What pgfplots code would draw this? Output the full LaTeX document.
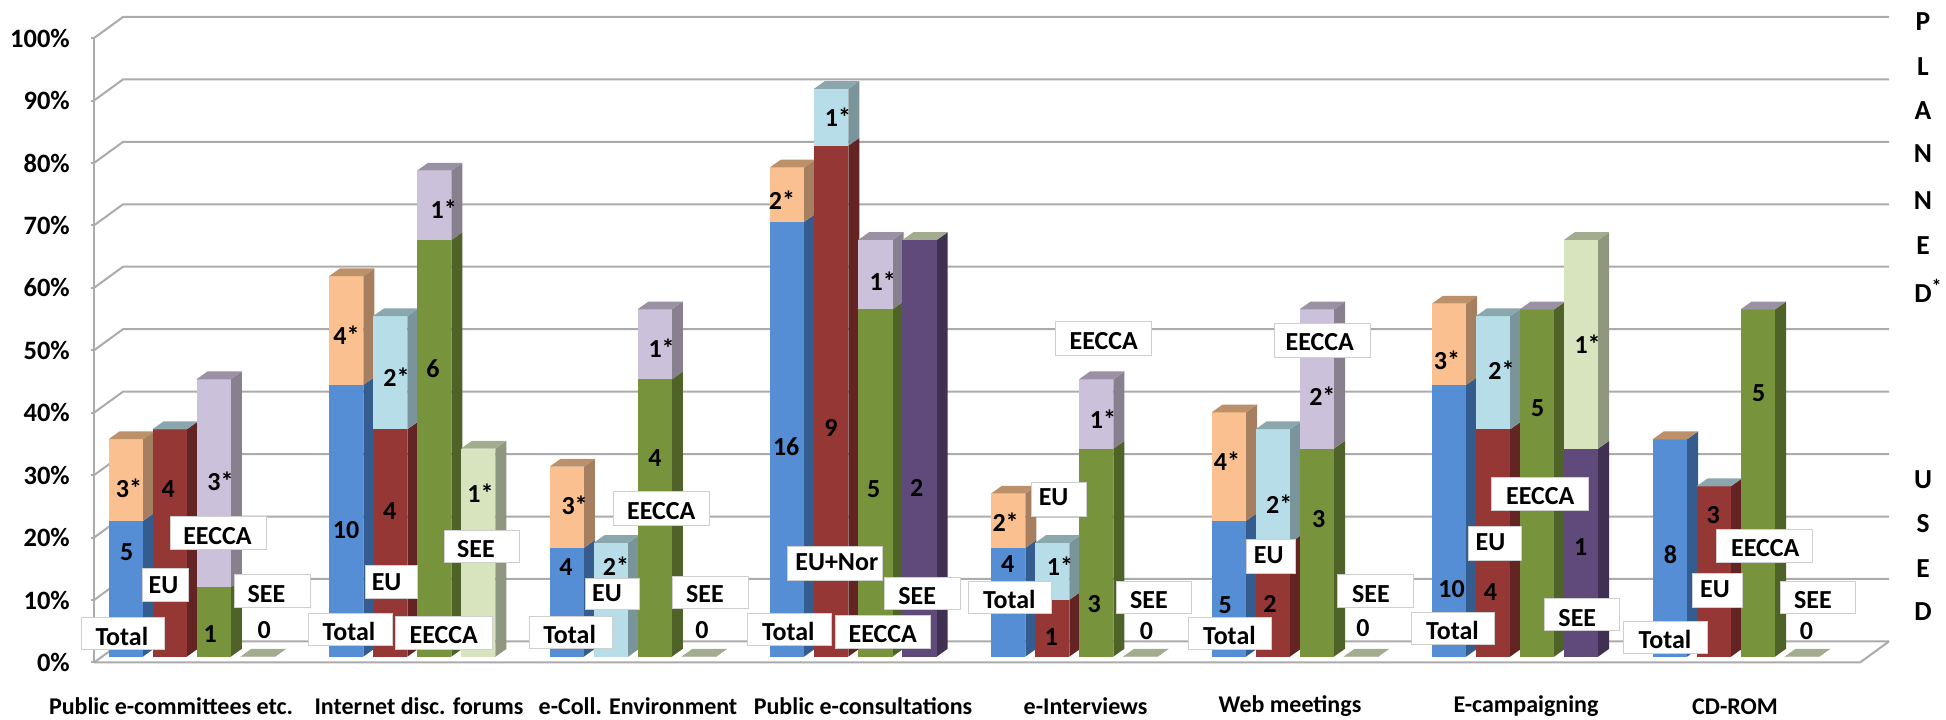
\documentclass[border=0pt]{standalone}
\usepackage{fontspec}
\setmainfont{Carlito}
\usepackage{pgfplots}
\pgfplotsset{compat=1.18}

% Front, side and top shades of the eight series colours
\definecolor{blueF}{HTML}{558ED5}\definecolor{blueS}{HTML}{345C8E}\definecolor{blueT}{HTML}{3F6A9F}
\definecolor{redF}{HTML}{953735}\definecolor{redS}{HTML}{632423}\definecolor{redT}{HTML}{702927}
\definecolor{greenF}{HTML}{77933C}\definecolor{greenS}{HTML}{4F6228}\definecolor{greenT}{HTML}{5A702E}
\definecolor{purpleF}{HTML}{604A7B}\definecolor{purpleS}{HTML}{403152}\definecolor{purpleT}{HTML}{4A3A5E}
\definecolor{orangeF}{HTML}{FAC090}\definecolor{orangeS}{HTML}{A67F60}\definecolor{orangeT}{HTML}{BC9069}
\definecolor{skyF}{HTML}{B7DEE8}\definecolor{skyS}{HTML}{7A949B}\definecolor{skyT}{HTML}{8AA7AE}
\definecolor{lilacF}{HTML}{CCC1DA}\definecolor{lilacS}{HTML}{88808F}\definecolor{lilacT}{HTML}{9A91A5}
\definecolor{paleF}{HTML}{D7E4BD}\definecolor{paleS}{HTML}{8F987E}\definecolor{paleT}{HTML}{A2AC8E}
\definecolor{wall}{HTML}{ABABAB}
\definecolor{boxline}{HTML}{CFCFCF}

\newcommand{\barw}{34.4}
\newcommand{\depx}{11}
\newcommand{\depy}{1.25}

% One block of a column: front and side face between two percentages
\newcommand{\block}[4]{%
  \pgfmathsetmacro{\xa}{#1+\barw}%
  \pgfmathsetmacro{\xb}{#1+\barw+\depx}%
  \pgfmathsetmacro{\ya}{#2+\depy}%
  \pgfmathsetmacro{\yb}{#3+\depy}%
  \addplot[fill=#4S,draw=none] coordinates {(\xa,#2)(\xb,\ya)(\xb,\yb)(\xa,#3)} -- cycle;
  \addplot[fill=#4F,draw=none] coordinates {(#1,#2)(\xa,#2)(\xa,#3)(#1,#3)} -- cycle;
}
% A whole column: left edge, top of the used part, top of used plus planned
\newcommand{\column}[5]{%
  \block{#1}{0}{#2}{#4}%
  \block{#1}{#2}{#3}{#5}%
  \pgfmathsetmacro{\xa}{#1+\barw}%
  \pgfmathsetmacro{\xb}{#1+\barw+\depx}%
  \pgfmathsetmacro{\xc}{#1+\depx}%
  \pgfmathsetmacro{\yb}{#3+\depy}%
  \addplot[fill=#5T,draw=none] coordinates {(#1,#3)(\xa,#3)(\xb,\yb)(\xc,\yb)} -- cycle;
}
% White call-out box with its caption
\newcommand{\callout}[7]{%
  \draw[boxline,fill=white,line width=0.9pt] (axis cs:#1,#2) rectangle (axis cs:#3,#4);
  \node[font=\fontsize{26}{30}\bfseries\selectfont,inner sep=0pt,anchor=center,yshift=-2.5pt] at (axis cs:#5,#6) {\strut#7};
}
\newcommand{\val}[3]{\node[font=\fontsize{26}{30}\bfseries\selectfont,inner sep=0pt,anchor=center] at (axis cs:#1,#2) {#3};}
\newcommand{\letter}[2]{\node[font=\fontsize{27.5}{30}\bfseries\selectfont,inner sep=0pt,anchor=center] at (axis cs:1923,#1) {#2};}

\begin{document}
\begin{tikzpicture}[x=1pt,y=1pt]
\useasboundingbox (0,0) rectangle (1946,720);

% Walls, floor and the percentage scale
\begin{axis}[
  at={(94pt,57.5pt)},anchor=south west,
  scale only axis,width=1795pt,height=624.4pt,
  xmin=94,xmax=1889,ymin=0,ymax=100,
  clip=false,no markers,
  axis line style={draw=none},
  ytick={0,10,...,100},
  yticklabels={0\%,10\%,20\%,30\%,40\%,50\%,60\%,70\%,80\%,90\%,100\%},
  xtick={171,419,638,863,1085.6,1290,1526,1735},
  xticklabels={Public e-committees etc.,Internet disc. forums,e-Coll. Environment,Public e-consultations,e-Interviews,Web meetings,E-campaigning,CD-ROM},
  x tick style={draw=none},
  y tick style={draw=wall,line width=2pt},
  major tick length=3pt,
  tick align=outside,
  ytick pos=left,xtick pos=bottom,
  y tick label style={font=\fontsize{26.5}{28}\bfseries\selectfont,anchor=east,inner sep=0pt,xshift=-21pt},
  x tick label style={font=\fontsize{24}{28}\bfseries\selectfont,anchor=center,inner sep=0pt,yshift=-41pt},
]
\pgfplotsinvokeforeach{0,10,...,100}{
  \addplot[draw=wall,line width=2pt] coordinates {(94,#1)(123,#1+3.38)(1889,#1+3.38)};
}
\addplot[draw=wall,line width=2pt] coordinates {(94,0)(94,100)};
\addplot[draw=wall,line width=2pt] coordinates {(94,0)(1860,0)(1889,3.38)};
\end{axis}

% Columns: share of the respondents in each group, in percent
\begin{axis}[
  at={(94pt,63.4pt)},anchor=south west,
  scale only axis,width=1795pt,height=624.6pt,
  xmin=94,xmax=1889,ymin=0,ymax=100,
  clip=false,no markers,hide axis,
]
\column{108.5}{21.7}{34.8}{blue}{orange}
\column{152.5}{36.4}{36.4}{red}{sky}
\column{196.5}{11.1}{44.4}{green}{lilac}
\column{240.5}{0}{0}{purple}{pale}

\column{329}{43.5}{60.9}{blue}{orange}
\column{373}{36.4}{54.5}{red}{sky}
\column{417}{66.7}{77.8}{green}{lilac}
\column{461}{0}{33.3}{purple}{pale}

\column{549.5}{17.4}{30.4}{blue}{orange}
\column{593.5}{0}{18.2}{red}{sky}
\column{637.5}{44.4}{55.6}{green}{lilac}
\column{681.5}{0}{0}{purple}{pale}

\column{769.7}{69.6}{78.3}{blue}{orange}
\column{813.9}{81.8}{90.9}{red}{sky}
\column{858.1}{55.6}{66.7}{green}{lilac}
\column{902.3}{66.7}{66.7}{purple}{pale}

\column{991}{17.4}{26.1}{blue}{orange}
\column{1035}{9.1}{18.2}{red}{sky}
\column{1079}{33.3}{44.4}{green}{lilac}
\column{1123}{0}{0}{purple}{pale}

\column{1211.6}{21.7}{39.1}{blue}{orange}
\column{1255.6}{18.2}{36.4}{red}{sky}
\column{1299.6}{33.3}{55.6}{green}{lilac}
\column{1343.6}{0}{0}{purple}{pale}

\column{1431.8}{43.5}{56.5}{blue}{orange}
\column{1475.8}{36.4}{54.5}{red}{sky}
\column{1519.8}{55.6}{55.6}{green}{lilac}
\column{1563.8}{33.3}{66.7}{purple}{pale}

\column{1652.7}{34.8}{34.8}{blue}{orange}
\column{1696.7}{27.3}{27.3}{red}{sky}
\column{1740.7}{55.6}{55.6}{green}{lilac}
\column{1784.7}{0}{0}{purple}{pale}
\end{axis}

% Counts, call-outs and the side captions, placed in image pixels
\begin{axis}[
  at={(0pt,0pt)},anchor=south west,
  scale only axis,width=1946pt,height=720pt,
  xmin=0,xmax=1946,ymin=0,ymax=720,y dir=reverse,
  clip=false,hide axis,
]
\val{126.8}{552.3}{5}\val{129}{488}{3*}\val{168.3}{489}{4}\val{220.5}{481.2}{3*}\val{210.3}{634}{1}\val{264.3}{630}{0}
\val{346}{530.3}{10}\val{346.4}{335.2}{4*}\val{389.7}{511}{4}\val{396.4}{377.4}{2*}\val{433}{369.1}{6}\val{443.8}{208.9}{1*}\val{480.4}{492.7}{1*}
\val{566}{567.5}{4}\val{574.6}{505}{3*}\val{616}{566}{2*}\val{654.9}{457.8}{4}\val{661.6}{348}{1*}\val{702}{630}{0}
\val{786.2}{446.7}{16}\val{782}{199.7}{2*}\val{831}{427.9}{9}\val{838}{117}{1*}\val{873.7}{489.4}{5}\val{882.8}{281}{1*}\val{916.8}{487.6}{2}
\val{1007.6}{563.8}{4}\val{1005.6}{522}{2*}\val{1051.2}{637.3}{1}\val{1059.9}{565.7}{1*}\val{1094.3}{604.2}{3}\val{1103}{419.2}{1*}\val{1146.5}{631.3}{0}
\val{1225.3}{605.1}{5}\val{1227}{461}{4*}\val{1270}{604.2}{2}\val{1279.2}{504.1}{2*}\val{1318.6}{518.8}{3}\val{1322.3}{396.2}{2*}\val{1363}{628.1}{0}
\val{1451.6}{589}{10}\val{1447}{360.4}{3*}\val{1490.4}{592.3}{4}\val{1501.5}{370.5}{2*}\val{1537.7}{408.6}{5}\val{1587.6}{344.4}{1*}\val{1580.6}{546.8}{1}
\val{1670.4}{554.2}{8}\val{1713.3}{515.2}{3}\val{1758.6}{393}{5}\val{1806.4}{631.3}{0}

\callout{81.3}{617.5}{164.7}{649.7}{121.9}{636.5}{Total}
\callout{142}{568}{188.4}{601.5}{163.4}{585.4}{EU}
\callout{170}{516}{266}{549}{217.4}{535.5}{EECCA}
\callout{234.8}{574.4}{310.3}{607}{266.5}{594.3}{SEE}

\callout{308.5}{613.4}{392}{645.5}{349}{632.4}{Total}
\callout{365.2}{565.2}{417}{598.7}{386.6}{582.2}{EU}
\callout{395.5}{616.2}{492}{649.7}{443.8}{635.1}{EECCA}
\callout{444.2}{530.3}{519.6}{562.9}{475.9}{549.3}{SEE}

\callout{529}{616.2}{612}{648.3}{569.6}{635.1}{Total}
\callout{585}{578.5}{639}{609.3}{607}{593}{EU}
\callout{613.4}{491.7}{709.1}{525.7}{661.2}{511.2}{EECCA}
\callout{672.8}{576.2}{748}{608.4}{705}{594.3}{SEE}

\callout{747.7}{613.4}{831.8}{645.5}{788.3}{632.4}{Total}
\callout{787.9}{546.4}{882.8}{580.3}{836.8}{561.8}{EU+Nor}
\callout{835.2}{615.2}{930.9}{648.3}{882.8}{634.2}{EECCA}
\callout{884.5}{577.6}{960.4}{609.7}{917.2}{596.1}{SEE}

\callout{968.2}{581.3}{1051.6}{613.4}{1009.3}{599.8}{Total}
\callout{1031.7}{482.5}{1086.8}{516}{1053.6}{497.1}{EU}
\callout{1055.3}{321.9}{1151}{355.4}{1103.8}{341.3}{EECCA}
\callout{1116.3}{581.3}{1191.3}{613.4}{1149}{599.8}{SEE}

\callout{1188.4}{617.5}{1271.7}{649.7}{1229.4}{635.6}{Total}
\callout{1246.4}{539.9}{1295.8}{573.5}{1268.8}{555.4}{EU}
\callout{1274.2}{323.2}{1370}{357.2}{1319.8}{341.7}{EECCA}
\callout{1337.9}{574.4}{1413.3}{607}{1370.9}{594.3}{SEE}

\callout{1411.2}{612}{1494.9}{644.2}{1452.5}{631}{Total}
\callout{1468.1}{526.6}{1521.3}{560.1}{1490.4}{542.1}{EU}
\callout{1491.6}{477}{1588}{510.6}{1540.2}{496}{EECCA}
\callout{1544.3}{598.3}{1619.7}{630.9}{1577.3}{618.1}{SEE}

\callout{1623.4}{621.2}{1707.1}{653.4}{1665}{640.2}{Total}
\callout{1692.3}{573.5}{1742.9}{607}{1714.9}{588.9}{EU}
\callout{1716.2}{529.4}{1812.2}{562.9}{1765.2}{547.9}{EECCA}
\callout{1780}{581.3}{1855.4}{613.4}{1813}{599.8}{SEE}

\letter{22}{P}\letter{66.6}{L}\letter{110.2}{A}\letter{153.8}{N}\letter{200.6}{N}\letter{245.6}{E}
\letter{290.6}{D\rlap{\raisebox{9pt}{\fontsize{20}{20}\selectfont *}}}
\letter{479.8}{U}\letter{523.4}{S}\letter{568.4}{E}\letter{612}{D}
\end{axis}
\end{tikzpicture}
\end{document}
